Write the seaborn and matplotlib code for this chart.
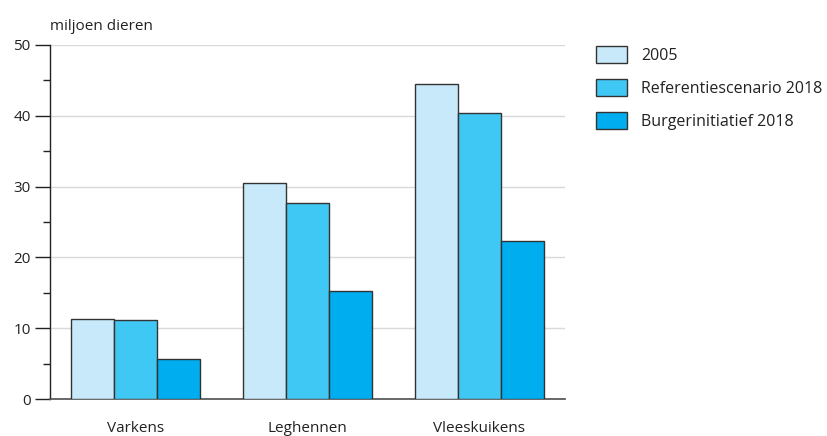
import matplotlib
matplotlib.use("Agg")
import matplotlib.pyplot as plt
from matplotlib.ticker import MultipleLocator
from matplotlib.patches import Patch
import seaborn as sns
import pandas as pd

categories = ["Varkens", "Leghennen", "Vleeskuikens"]
series = ["2005", "Referentiescenario 2018", "Burgerinitiatief 2018"]
values_2005 = [11.3, 30.5, 44.5]
values_ref = [11.1, 27.7, 40.4]
values_burger = [5.65, 15.25, 22.3]
colors = ["#c7e9f9", "#40c8f4", "#00aeef"]

rows = []
for name, vals in zip(series, [values_2005, values_ref, values_burger]):
    for cat, v in zip(categories, vals):
        rows.append({"categorie": cat, "reeks": name, "waarde": v})
df = pd.DataFrame(rows)

sns.set_theme(style="white")
plt.rcParams["font.family"] = ["Open Sans", "DejaVu Sans"]

fig = plt.figure(figsize=(8.27, 4.36), dpi=100)
ax = fig.add_axes([50 / 827, 1 - 399 / 436, 515 / 827, 354 / 436])

sns.barplot(data=df, x="categorie", y="waarde", hue="reeks", order=categories,
            hue_order=series, palette=colors, saturation=1, width=0.75,
            edgecolor="#333333", linewidth=1, ax=ax, legend=False, zorder=3)

ax.set_ylim(0, 50)
ax.set_xlim(-0.5, 2.5)
ax.yaxis.set_major_locator(MultipleLocator(10))
ax.yaxis.set_minor_locator(MultipleLocator(5))
ax.grid(axis="y", which="major", color="#d9d9d9", linewidth=1, zorder=0)
ax.set_axisbelow(True)
for s in ["top", "right"]:
    ax.spines[s].set_visible(False)
ax.spines["left"].set_color("#222222")
ax.spines["bottom"].set_color("#555555")
ax.spines["left"].set_linewidth(1)
ax.tick_params(axis="y", which="major", left=True, length=11, width=1,
               color="#222222", labelsize=11, labelcolor="#222222", pad=3)
ax.tick_params(axis="y", which="minor", left=True, length=5, width=1, color="#222222")
ax.tick_params(axis="x", bottom=False, labelsize=11, labelcolor="#222222", pad=10)
ax.set_xlabel("")
ax.set_ylabel("")
fig.text(50 / 827, 1 - 27 / 436, "miljoen dieren", fontsize=11, color="#222222",
         va="center", ha="left")

handles = [Patch(facecolor=c, edgecolor="#333333", linewidth=1) for c in colors]
fig.legend(handles, series, loc="upper left", bbox_to_anchor=(590 / 827, 1 - 40 / 436),
           frameon=False, fontsize=11.5, handlelength=1.9, handleheight=1.25,
           labelspacing=0.95, handletextpad=0.9, borderaxespad=0, labelcolor="#222222")

fig.savefig("out.png", dpi=100)
